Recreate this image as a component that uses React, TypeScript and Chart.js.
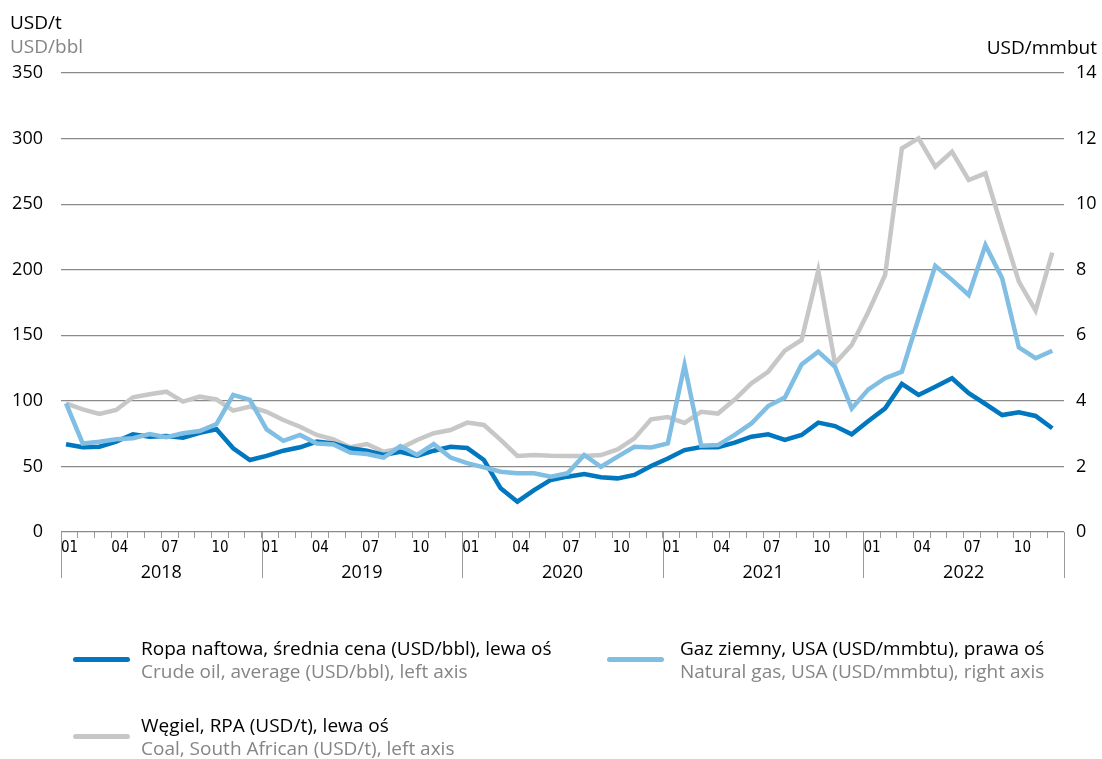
import React, { useEffect, useRef } from "react";
import { Chart, registerables } from "chart.js";

Chart.register(...registerables);

// ---- data ----
const years = ["2018", "2019", "2020", "2021", "2022"];
const monthTickLabels = ["01", "", "", "04", "", "", "07", "", "", "10", "", ""];
const leftAxisTicks = [0, 50, 100, 150, 200, 250, 300, 350];
const rightAxisTicks = [0, 2, 4, 6, 8, 10, 12, 14];

// Crude oil, average (USD/bbl), left axis — monthly 2018-01 .. 2022-12
const crudeOil = [
  66.9, 64.6, 65.0, 68.9, 74.5, 72.7, 73.2, 71.9, 75.7, 78.3, 63.8, 54.9,
  58.0, 62.0, 64.6, 68.9, 67.6, 63.8, 62.0, 58.7, 61.2, 58.0, 62.0, 65.0,
  64.0, 54.9, 33.3, 23.1, 32.0, 39.7, 42.2, 44.2, 41.7, 40.9, 43.5, 50.3,
  56.0, 62.5, 64.8, 64.6, 68.2, 72.7, 74.5, 70.2, 74.0, 83.4, 80.8, 74.5,
  84.6, 94.3, 112.9, 104.5, 110.8, 117.2, 105.8, 97.6, 89.2, 91.3, 88.5, 79.1,
];

// Natural gas, USA (USD/mmbtu), right axis
const naturalGas = [
  3.92, 2.7, 2.75, 2.83, 2.86, 2.99, 2.89, 3.01, 3.08, 3.29, 4.18, 4.03,
  3.13, 2.78, 2.96, 2.7, 2.67, 2.42, 2.38, 2.27, 2.62, 2.35, 2.68, 2.27,
  2.1, 1.97, 1.84, 1.79, 1.79, 1.69, 1.79, 2.35, 1.99, 2.3, 2.6, 2.58,
  2.7, 5.09, 2.63, 2.65, 2.96, 3.31, 3.84, 4.1, 5.11, 5.5, 5.04, 3.77,
  4.35, 4.69, 4.89, 6.52, 8.12, 7.69, 7.23, 8.75, 7.74, 5.63, 5.3, 5.53,
];

// Coal, South African (USD/t), left axis
const coal = [
  98.1, 93.5, 90.0, 93.0, 102.7, 105.0, 107.0, 99.4, 103.2, 101.2, 92.5, 95.6,
  91.7, 85.4, 80.3, 74.0, 70.7, 64.6, 67.1, 61.2, 63.8, 70.2, 75.3, 77.8,
  83.4, 81.6, 70.2, 58.0, 58.7, 58.2, 58.0, 58.0, 58.7, 63.0, 71.4, 85.9,
  87.6, 83.2, 91.7, 90.3, 101.0, 113.4, 122.2, 138.3, 146.4, 199.3, 128.6, 142.6,
  168.0, 196.0, 292.6, 300.2, 278.6, 290.0, 268.4, 273.5, 231.6, 190.9, 168.8, 213.0,
];

const COLOR_OIL = "#0077bf";
const COLOR_GAS = "#80bee3";
const COLOR_COAL = "#c7c7c7";
const GRID = "#8a8a8a";
const GRAY_TEXT = "#858585";
const FONT = "'Open Sans', 'Noto Sans', sans-serif";
const NARROW = "'Liberation Sans Narrow', 'DejaVu Sans Condensed', sans-serif";

const X_SHIFT = 0.3; // points sit slightly left of month-cell centres

const yearPlugin = {
  id: "yearRow",
  afterDraw(chart: any) {
    const xs = chart.scales.x;
    const ctx = chart.ctx;
    const bottom = chart.chartArea.bottom;
    ctx.save();
    ctx.strokeStyle = "#9a9a9a";
    ctx.lineWidth = 1;
    for (let k = 0; k <= years.length; k++) {
      const px = Math.round(xs.getPixelForValue(k * 12 - X_SHIFT)) + 0.5;
      ctx.beginPath();
      ctx.moveTo(px, bottom);
      ctx.lineTo(px, 578);
      ctx.stroke();
    }
    ctx.fillStyle = "#000";
    ctx.font = `18px ${FONT}`;
    ctx.textAlign = "center";
    ctx.textBaseline = "middle";
    years.forEach((y, k) => {
      const px = xs.getPixelForValue(k * 12 + 6 - X_SHIFT);
      ctx.fillText(y, px, 573);
    });
    ctx.restore();
  },
};

function ChartCanvas() {
  const ref = useRef<HTMLCanvasElement>(null);
  useEffect(() => {
    if (!ref.current) return;
    const toXY = (arr: number[]) => arr.map((v, i) => ({ x: i, y: v }));
    const lineCommon = {
      pointRadius: 0,
      pointHoverRadius: 0,
      borderWidth: 4.5,
      tension: 0,
      borderJoinStyle: "miter" as const,
      borderCapStyle: "butt" as const,
      fill: false,
    };
    const chart = new Chart(ref.current, {
      type: "line",
      data: {
        datasets: [
          {
            label: "Gaz ziemny, USA (USD/mmbtu), prawa oś",
            data: toXY(naturalGas),
            borderColor: COLOR_GAS,
            yAxisID: "yRight",
            order: 0,
            ...lineCommon,
          },
          {
            label: "Ropa naftowa, średnia cena (USD/bbl), lewa oś",
            data: toXY(crudeOil),
            borderColor: COLOR_OIL,
            yAxisID: "yLeft",
            order: 1,
            ...lineCommon,
          },
          {
            label: "Węgiel, RPA (USD/t), lewa oś",
            data: toXY(coal),
            borderColor: COLOR_COAL,
            yAxisID: "yLeft",
            order: 2,
            ...lineCommon,
          },
        ],
      },
      options: {
        animation: false,
        responsive: false,
        maintainAspectRatio: false,
        events: [],
        layout: { padding: { top: 73, left: 0, right: 0, bottom: 0 } },
        plugins: {
          legend: { display: false },
          tooltip: { enabled: false },
          title: { display: false },
        },
        scales: {
          x: {
            type: "linear",
            position: "bottom",
            min: -X_SHIFT,
            max: 60 - X_SHIFT,
            afterBuildTicks: (scale: any) => {
              const t = [];
              for (let k = 0; k <= 60; k++) t.push({ value: k - X_SHIFT });
              scale.ticks = t;
            },
            afterFit: (scale: any) => {
              scale.height = 227;
            },
            grid: {
              drawOnChartArea: false,
              drawTicks: true,
              tickLength: 6,
              color: "#9a9a9a",
              lineWidth: 1,
            },
            border: { display: false },
            ticks: {
              autoSkip: false,
              maxRotation: 0,
              minRotation: 0,
              align: "start",
              padding: 1,
              color: "#000",
              font: { family: NARROW, size: 15 },
              callback: (_v: any, index: number) =>
                index < 60 ? monthTickLabels[index % 12] : "",
            },
          },
          yLeft: {
            type: "linear",
            position: "left",
            min: 0,
            max: 350,
            afterBuildTicks: (scale: any) => {
              scale.ticks = leftAxisTicks.map((v) => ({ value: v }));
            },
            afterFit: (scale: any) => {
              scale.width = 61;
            },
            grid: {
              color: GRID,
              lineWidth: 1.2,
              drawTicks: false,
            },
            border: { display: false },
            ticks: {
              padding: 18,
              color: "#000",
              font: { family: FONT, size: 18 },
            },
          },
          yRight: {
            type: "linear",
            position: "right",
            min: 0,
            max: 14,
            afterBuildTicks: (scale: any) => {
              scale.ticks = rightAxisTicks.map((v) => ({ value: v }));
            },
            afterFit: (scale: any) => {
              scale.width = 38;
            },
            grid: { drawOnChartArea: false, drawTicks: false },
            border: { display: false },
            ticks: {
              padding: 12,
              color: "#000",
              font: { family: FONT, size: 18 },
            },
          },
        },
      } as any,
      plugins: [yearPlugin],
    });
    return () => chart.destroy();
  }, []);
  return <canvas ref={ref} width={1102} height={759} style={{ display: "block" }} />;
}

const abs = (left: number, top: number, extra: React.CSSProperties = {}): React.CSSProperties => ({
  position: "absolute",
  left,
  top,
  ...extra,
});

function LegendItem(props: {
  left: number;
  top: number;
  swatchLeft: number;
  color: string;
  pl: string;
  en: string;
}) {
  const { left, top, swatchLeft, color, pl, en } = props;
  return (
    <>
      <div
        style={abs(swatchLeft, top + 20.5, {
          width: 57,
          height: 5,
          borderRadius: 2.5,
          background: color,
        })}
      />
      <div
        style={abs(left, top, {
          fontFamily: FONT,
          fontSize: 19,
          lineHeight: "23px",
          whiteSpace: "nowrap",
        })}
      >
        <div style={{ color: "#000" }}>{pl}</div>
        <div style={{ color: GRAY_TEXT }}>{en}</div>
      </div>
    </>
  );
}

export default function App() {
  return (
    <div
      style={{
        position: "absolute",
        left: 0,
        top: 0,
        width: 1102,
        height: 759,
        background: "#fff",
        overflow: "hidden",
      }}
    >
      <ChartCanvas />
      <div
        style={abs(10, 10.5, {
          fontFamily: FONT,
          fontSize: 19,
          lineHeight: "23px",
          color: "#000",
        })}
      >
        USD/t
      </div>
      <div
        style={abs(10, 34.5, {
          fontFamily: FONT,
          fontSize: 19,
          lineHeight: "23px",
          color: GRAY_TEXT,
        })}
      >
        USD/bbl
      </div>
      <div
        style={{
          position: "absolute",
          right: 5,
          top: 36,
          fontFamily: FONT,
          fontSize: 19,
          lineHeight: "23px",
          color: "#000",
        }}
      >
        USD/mmbut
      </div>
      <LegendItem
        left={141}
        top={636.5}
        swatchLeft={73}
        color={COLOR_OIL}
        pl="Ropa naftowa, średnia cena (USD/bbl), lewa oś"
        en="Crude oil, average (USD/bbl), left axis"
      />
      <LegendItem
        left={680}
        top={636.5}
        swatchLeft={607}
        color={COLOR_GAS}
        pl="Gaz ziemny, USA (USD/mmbtu), prawa oś"
        en="Natural gas, USA (USD/mmbtu), right axis"
      />
      <LegendItem
        left={141}
        top={713.5}
        swatchLeft={73}
        color={COLOR_COAL}
        pl="Węgiel, RPA (USD/t), lewa oś"
        en="Coal, South African (USD/t), left axis"
      />
    </div>
  );
}
